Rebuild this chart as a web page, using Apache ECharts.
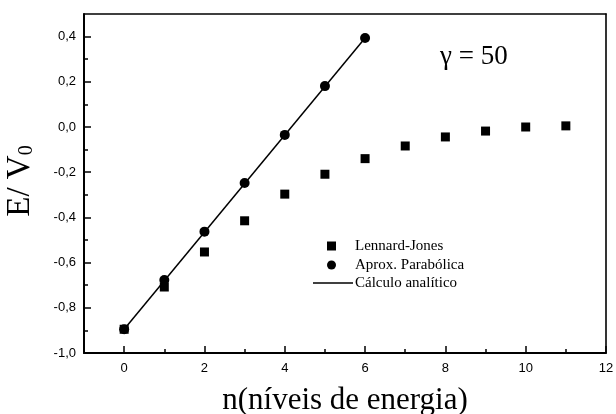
<!DOCTYPE html>
<html>
<head>
<meta charset="utf-8">
<script src="https://cdn.jsdelivr.net/npm/echarts@6/dist/echarts.min.js"></script>
<style>
	html, body { margin: 0; padding: 0; background: #fff; }
	#chart { width: 616px; height: 414px; }
</style>
</head>
<body>
<div id="chart"></div>
<script>
	// dados
	var nLJ = [0, 1, 2, 3, 4, 5, 6, 7, 8, 9, 10, 11];
	var eLJ = [-0.895, -0.708, -0.553, -0.415, -0.297, -0.209, -0.140, -0.084, -0.044, -0.018, 0.000, 0.005];
	var nPar = [0, 1, 2, 3, 4, 5, 6];
	var ePar = [-0.895, -0.677, -0.463, -0.248, -0.035, 0.181, 0.394];
	var nAnal = [0, 6];
	var eAnal = [-0.895, 0.394];
	var xMajor = [0, 2, 4, 6, 8, 10, 12];
	var xMinor = [1, 3, 5, 7, 9, 11];
	var yMajor = [-1.0, -0.8, -0.6, -0.4, -0.2, 0.0, 0.2, 0.4];
	var yMinor = [-0.9, -0.7, -0.5, -0.3, -0.1, 0.1, 0.3];

	function pairs(xs, ys) {
		var result = [];
		for (var i = 0; i < xs.length; i++) {
			result.push([xs[i], ys[i]]);
		}
		return result;
	}

	var serif = '"Liberation Serif", "Times New Roman", serif';
	var sans = '"Liberation Sans", Arial, sans-serif';
	var axisLine = { show: true, onZero: false, lineStyle: { color: '#000', width: 2 } };
	var frameLine = { show: true, onZero: false, lineStyle: { color: '#000', width: 1.6 } };
	var legendText = { fontFamily: serif, fontSize: 15, lineHeight: 18, color: '#000' };

	var chart = echarts.init(document.getElementById('chart'));
	var option = {
		backgroundColor: '#fff',
		animation: false,
		grid: { left: 84, right: 10, top: 14, bottom: 61, containLabel: false, outerBoundsMode: 'none' },
		legend: [{
			orient: 'vertical',
			left: 322,
			top: 232,
			itemWidth: 9,
			itemHeight: 9,
			itemGap: 1,
			textStyle: Object.assign({ padding: [0, 0, 0, 14] }, legendText),
			data: [
				{ name: 'Lennard-Jones', icon: 'rect' },
				{ name: 'Aprox. Parabólica', icon: 'circle' }
			]
		}, {
			left: 308,
			top: 269,
			itemWidth: 40,
			itemHeight: 1.5,
			textStyle: Object.assign({ padding: [0, 0, 0, -3] }, legendText),
			data: [{ name: 'Cálculo analítico', icon: 'rect' }]
		}],
		xAxis: [{
			type: 'value',
			position: 'bottom',
			min: -1,
			max: 12,
			name: 'n(níveis de energia)',
			nameLocation: 'middle',
			nameGap: 32,
			nameTextStyle: { fontFamily: serif, fontSize: 31, color: '#000' },
			axisLine: axisLine,
			axisTick: { inside: true, length: 7, customValues: xMajor, lineStyle: { color: '#000', width: 1.5 } },
			axisLabel: {
				customValues: xMajor,
				margin: 9,
				fontFamily: sans,
				fontSize: 13,
				color: '#000'
			},
			splitLine: { show: false }
		}, {
			type: 'value',
			position: 'bottom',
			min: -1,
			max: 12,
			axisLine: { show: false, onZero: false },
			axisTick: { inside: true, length: 4, customValues: xMinor, lineStyle: { color: '#000', width: 1.5 } },
			axisLabel: { show: false },
			splitLine: { show: false }
		}, {
			type: 'value',
			position: 'top',
			min: -1,
			max: 12,
			axisLine: frameLine,
			axisTick: { show: false },
			axisLabel: { show: false },
			splitLine: { show: false }
		}],
		yAxis: [{
			type: 'value',
			position: 'left',
			min: -1.0,
			max: 0.5,
			name: 'E/ V{sub|0}',
			nameLocation: 'middle',
			nameGap: 47,
			nameRotate: 90,
			nameTextStyle: {
				fontFamily: serif,
				fontSize: 33,
				color: '#000',
				padding: [0, 0, 0, 5],
				rich: {
					sub: { fontFamily: serif, fontSize: 20, color: '#000', verticalAlign: 'bottom', padding: [14, 0, 0, 0] }
				}
			},
			axisLine: axisLine,
			axisTick: { inside: true, length: 7, customValues: yMajor, lineStyle: { color: '#000', width: 1.5 } },
			axisLabel: {
				customValues: yMajor,
				margin: 8,
				fontFamily: sans,
				fontSize: 13,
				color: '#000',
				formatter: function(v) {
					return v.toFixed(1).replace('.', ',');
				}
			},
			splitLine: { show: false }
		}, {
			type: 'value',
			position: 'left',
			min: -1.0,
			max: 0.5,
			axisLine: { show: false, onZero: false },
			axisTick: { inside: true, length: 4, customValues: yMinor, lineStyle: { color: '#000', width: 1.5 } },
			axisLabel: { show: false },
			splitLine: { show: false }
		}, {
			type: 'value',
			position: 'right',
			min: -1.0,
			max: 0.5,
			axisLine: frameLine,
			axisTick: { show: false },
			axisLabel: { show: false },
			splitLine: { show: false }
		}],
		graphic: [{
			type: 'text',
			left: 440,
			top: 43,
			style: { text: 'γ = 50', font: '27px ' + serif, fill: '#000' }
		}],
		series: [{
			name: 'Cálculo analítico',
			type: 'line',
			data: pairs(nAnal, eAnal),
			showSymbol: false,
			symbol: 'none',
			lineStyle: { color: '#000', width: 1.5 },
			itemStyle: { color: '#000' },
			z: 2
		}, {
			name: 'Aprox. Parabólica',
			type: 'scatter',
			data: pairs(nPar, ePar),
			symbol: 'circle',
			symbolSize: 10,
			itemStyle: { color: '#000', opacity: 1 },
			z: 3
		}, {
			name: 'Lennard-Jones',
			type: 'scatter',
			data: pairs(nLJ, eLJ),
			symbol: 'rect',
			symbolSize: 9,
			itemStyle: { color: '#000', opacity: 1 },
			z: 4
		}]
	};
	chart.setOption(option);
</script>
</body>
</html>
